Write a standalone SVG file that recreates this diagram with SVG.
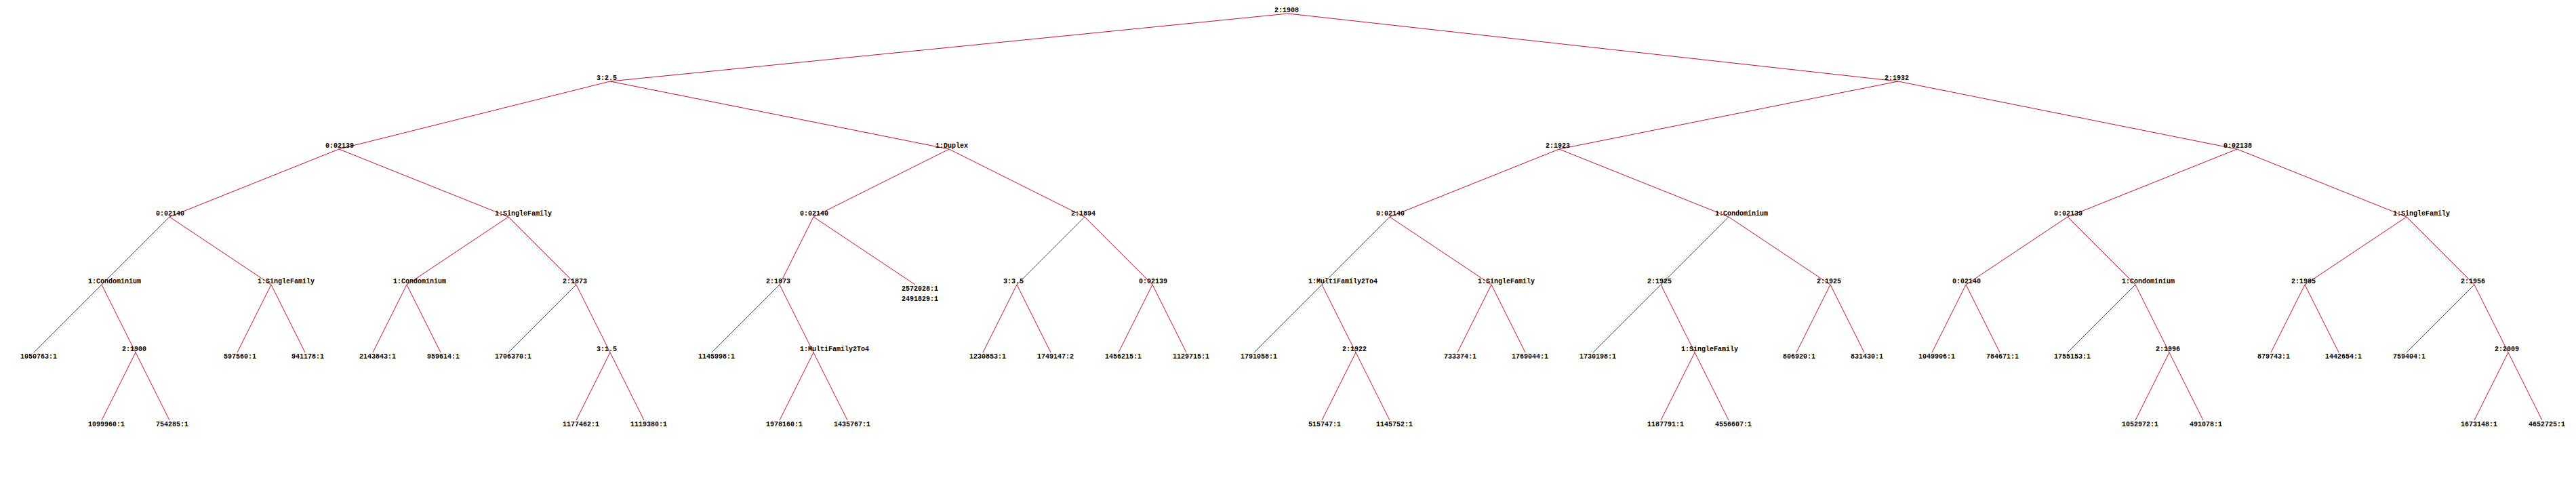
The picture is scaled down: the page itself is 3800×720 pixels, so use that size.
<svg xmlns="http://www.w3.org/2000/svg" width="3800" height="720" viewBox="0 0 3800 720">
<style>
text{font-family:"Liberation Mono","DejaVu Sans Mono",monospace;font-size:10px;font-weight:bold;fill:#000}
#edges line{stroke:#c8102e;stroke-width:1}
</style>
<rect width="3800" height="720" fill="#fff"/>
<g id="edges">
<line x1="1900" y1="20" x2="900" y2="120"/><line x1="1900" y1="20" x2="2800" y2="120"/>
<line x1="900" y1="120" x2="500" y2="220"/><line x1="900" y1="120" x2="1400" y2="220"/>
<line x1="2800" y1="120" x2="2300" y2="220"/><line x1="2800" y1="120" x2="3300" y2="220"/>
<line x1="500" y1="220" x2="250" y2="320"/><line x1="500" y1="220" x2="750" y2="320"/>
<line x1="1400" y1="220" x2="1200" y2="320"/><line x1="1400" y1="220" x2="1600" y2="320"/>
<line x1="2300" y1="220" x2="2050" y2="320"/><line x1="2300" y1="220" x2="2550" y2="320"/>
<line x1="3300" y1="220" x2="3050" y2="320"/><line x1="3300" y1="220" x2="3550" y2="320"/>
<line x1="250" y1="320" x2="150" y2="420"/><line x1="250" y1="320" x2="400" y2="420"/>
<line x1="750" y1="320" x2="600" y2="420"/><line x1="750" y1="320" x2="850" y2="420"/>
<line x1="1200" y1="320" x2="1150" y2="420"/><line x1="1200" y1="320" x2="1350" y2="420"/>
<line x1="1600" y1="320" x2="1500" y2="420"/><line x1="1600" y1="320" x2="1700" y2="420"/>
<line x1="2050" y1="320" x2="1950" y2="420"/><line x1="2050" y1="320" x2="2200" y2="420"/>
<line x1="2550" y1="320" x2="2450" y2="420"/><line x1="2550" y1="320" x2="2700" y2="420"/>
<line x1="3050" y1="320" x2="2900" y2="420"/><line x1="3050" y1="320" x2="3150" y2="420"/>
<line x1="3550" y1="320" x2="3400" y2="420"/><line x1="3550" y1="320" x2="3650" y2="420"/>
<line x1="150" y1="420" x2="50" y2="520"/><line x1="150" y1="420" x2="200" y2="520"/>
<line x1="400" y1="420" x2="350" y2="520"/><line x1="400" y1="420" x2="450" y2="520"/>
<line x1="600" y1="420" x2="550" y2="520"/><line x1="600" y1="420" x2="650" y2="520"/>
<line x1="850" y1="420" x2="750" y2="520"/><line x1="850" y1="420" x2="900" y2="520"/>
<line x1="1150" y1="420" x2="1050" y2="520"/><line x1="1150" y1="420" x2="1200" y2="520"/>
<line x1="1500" y1="420" x2="1450" y2="520"/><line x1="1500" y1="420" x2="1550" y2="520"/>
<line x1="1700" y1="420" x2="1650" y2="520"/><line x1="1700" y1="420" x2="1750" y2="520"/>
<line x1="1950" y1="420" x2="1850" y2="520"/><line x1="1950" y1="420" x2="2000" y2="520"/>
<line x1="2200" y1="420" x2="2150" y2="520"/><line x1="2200" y1="420" x2="2250" y2="520"/>
<line x1="2450" y1="420" x2="2350" y2="520"/><line x1="2450" y1="420" x2="2500" y2="520"/>
<line x1="2700" y1="420" x2="2650" y2="520"/><line x1="2700" y1="420" x2="2750" y2="520"/>
<line x1="2900" y1="420" x2="2850" y2="520"/><line x1="2900" y1="420" x2="2950" y2="520"/>
<line x1="3150" y1="420" x2="3050" y2="520"/><line x1="3150" y1="420" x2="3200" y2="520"/>
<line x1="3400" y1="420" x2="3350" y2="520"/><line x1="3400" y1="420" x2="3450" y2="520"/>
<line x1="3650" y1="420" x2="3550" y2="520"/><line x1="3650" y1="420" x2="3700" y2="520"/>
<line x1="200" y1="520" x2="150" y2="620"/><line x1="200" y1="520" x2="250" y2="620"/>
<line x1="900" y1="520" x2="850" y2="620"/><line x1="900" y1="520" x2="950" y2="620"/>
<line x1="1200" y1="520" x2="1150" y2="620"/><line x1="1200" y1="520" x2="1250" y2="620"/>
<line x1="2000" y1="520" x2="1950" y2="620"/><line x1="2000" y1="520" x2="2050" y2="620"/>
<line x1="2500" y1="520" x2="2450" y2="620"/><line x1="2500" y1="520" x2="2550" y2="620"/>
<line x1="3200" y1="520" x2="3150" y2="620"/><line x1="3200" y1="520" x2="3250" y2="620"/>
<line x1="3700" y1="520" x2="3650" y2="620"/><line x1="3700" y1="520" x2="3750" y2="620"/>
</g>
<g id="n0"><text x="1880" y="18">2:1908</text></g>
<g id="n1"><text x="880" y="118">3:2.5</text></g>
<g id="n2"><text x="2780" y="118">2:1932</text></g>
<g id="n3"><text x="480" y="218">0:02139</text></g>
<g id="n4"><text x="1380" y="218">1:Duplex</text></g>
<g id="n5"><text x="2280" y="218">2:1923</text></g>
<g id="n6"><text x="3280" y="218">0:02138</text></g>
<g id="n7"><text x="230" y="318">0:02140</text></g>
<g id="n8"><text x="730" y="318">1:SingleFamily</text></g>
<g id="n9"><text x="1180" y="318">0:02140</text></g>
<g id="n10"><text x="1580" y="318">2:1894</text></g>
<g id="n11"><text x="2030" y="318">0:02140</text></g>
<g id="n12"><text x="2530" y="318">1:Condominium</text></g>
<g id="n13"><text x="3030" y="318">0:02139</text></g>
<g id="n14"><text x="3530" y="318">1:SingleFamily</text></g>
<g id="n15"><text x="130" y="418">1:Condominium</text></g>
<g id="n16"><text x="380" y="418">1:SingleFamily</text></g>
<g id="n17"><text x="580" y="418">1:Condominium</text></g>
<g id="n18"><text x="830" y="418">2:1873</text></g>
<g id="n19"><text x="1130" y="418">2:1873</text></g>
<g id="n20"><text x="1330" y="429">2572028:1</text><text x="1330" y="444">2491829:1</text></g>
<g id="n21"><text x="1480" y="418">3:3.5</text></g>
<g id="n22"><text x="1680" y="418">0:02139</text></g>
<g id="n23"><text x="1930" y="418">1:MultiFamily2To4</text></g>
<g id="n24"><text x="2180" y="418">1:SingleFamily</text></g>
<g id="n25"><text x="2430" y="418">2:1925</text></g>
<g id="n26"><text x="2680" y="418">2:1925</text></g>
<g id="n27"><text x="2880" y="418">0:02140</text></g>
<g id="n28"><text x="3130" y="418">1:Condominium</text></g>
<g id="n29"><text x="3380" y="418">2:1985</text></g>
<g id="n30"><text x="3630" y="418">2:1956</text></g>
<g id="n31"><text x="30" y="529">1050763:1</text></g>
<g id="n32"><text x="180" y="518">2:1900</text></g>
<g id="n33"><text x="330" y="529">597560:1</text></g>
<g id="n34"><text x="430" y="529">941178:1</text></g>
<g id="n35"><text x="530" y="529">2143843:1</text></g>
<g id="n36"><text x="630" y="529">959614:1</text></g>
<g id="n37"><text x="730" y="529">1706370:1</text></g>
<g id="n38"><text x="880" y="518">3:1.5</text></g>
<g id="n39"><text x="1030" y="529">1145998:1</text></g>
<g id="n40"><text x="1180" y="518">1:MultiFamily2To4</text></g>
<g id="n41"><text x="1430" y="529">1230853:1</text></g>
<g id="n42"><text x="1530" y="529">1749147:2</text></g>
<g id="n43"><text x="1630" y="529">1456215:1</text></g>
<g id="n44"><text x="1730" y="529">1129715:1</text></g>
<g id="n45"><text x="1830" y="529">1791058:1</text></g>
<g id="n46"><text x="1980" y="518">2:1922</text></g>
<g id="n47"><text x="2130" y="529">733374:1</text></g>
<g id="n48"><text x="2230" y="529">1769044:1</text></g>
<g id="n49"><text x="2330" y="529">1730198:1</text></g>
<g id="n50"><text x="2480" y="518">1:SingleFamily</text></g>
<g id="n51"><text x="2630" y="529">806920:1</text></g>
<g id="n52"><text x="2730" y="529">831430:1</text></g>
<g id="n53"><text x="2830" y="529">1049906:1</text></g>
<g id="n54"><text x="2930" y="529">784671:1</text></g>
<g id="n55"><text x="3030" y="529">1755153:1</text></g>
<g id="n56"><text x="3180" y="518">2:1996</text></g>
<g id="n57"><text x="3330" y="529">879743:1</text></g>
<g id="n58"><text x="3430" y="529">1442654:1</text></g>
<g id="n59"><text x="3530" y="529">759404:1</text></g>
<g id="n60"><text x="3680" y="518">2:2009</text></g>
<g id="n61"><text x="130" y="629">1099960:1</text></g>
<g id="n62"><text x="230" y="629">754285:1</text></g>
<g id="n63"><text x="830" y="629">1177462:1</text></g>
<g id="n64"><text x="930" y="629">1119380:1</text></g>
<g id="n65"><text x="1130" y="629">1978160:1</text></g>
<g id="n66"><text x="1230" y="629">1435767:1</text></g>
<g id="n67"><text x="1930" y="629">515747:1</text></g>
<g id="n68"><text x="2030" y="629">1145752:1</text></g>
<g id="n69"><text x="2430" y="629">1187791:1</text></g>
<g id="n70"><text x="2530" y="629">4556607:1</text></g>
<g id="n71"><text x="3130" y="629">1052972:1</text></g>
<g id="n72"><text x="3230" y="629">491078:1</text></g>
<g id="n73"><text x="3630" y="629">1673148:1</text></g>
<g id="n74"><text x="3730" y="629">4652725:1</text></g>
</svg>
